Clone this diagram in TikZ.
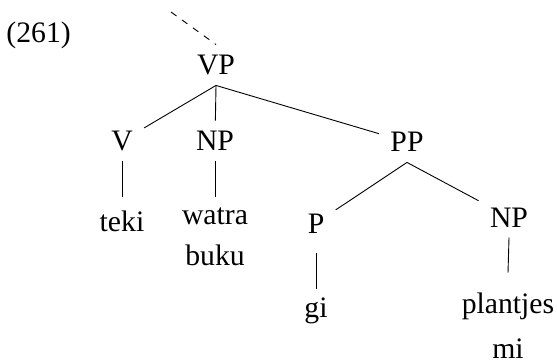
\documentclass[tikz,border=0pt]{standalone}
\usepackage{fontspec}
\setmainfont{Liberation Serif}
\begin{document}
\begin{tikzpicture}[x=0.4444pt,y=-0.4444pt,
  every node/.style={font=\fontsize{13.2}{15}\selectfont},
  cat/.style={inner ysep=0pt, inner xsep=4.89pt, text height=13.33pt, text depth=4.44pt, anchor=base},
  leaf/.style={inner sep=0pt, anchor=base},
  txt/.style={inner sep=0pt, anchor=base}]
\useasboundingbox (0,0) rectangle (557,363);
\node[txt, anchor=base west] (ex) at (6,43) {(261)};
\coordinate (dtop) at (171,12);
\node[cat] (vp) at (216,75) {VP};
\node[cat] (v) at (122,151) {V};
\node[cat] (np1) at (215,151) {NP};
\node[cat] (pp) at (407,152) {PP};
\node[cat, text height=17.78pt, text depth=8.89pt] (p) at (316,233) {P};
\node[cat] (np2) at (509,227) {NP};
\node[leaf, text height=15.56pt] (teki) at (122,232) {teki};
\node[leaf, text height=12.44pt] (watra) at (215,225) {watra};
\node[txt] (buku) at (215,265) {buku};
\node[leaf, text height=12.44pt] (gi) at (316,317) {gi};
\node[leaf, text height=17.78pt] (plantjes) at (508,313) {plantjes};
\node[txt] (mi) at (508,358) {mi};
\draw[dashed] (dtop) -- (vp.north);
\draw (vp.south) -- (v);
\draw (vp.south) -- (np1);
\draw (vp.south) -- (pp);
\draw (v.south) -- (teki.north);
\draw (np1.south) -- (watra.north);
\draw (pp.south) -- (p);
\draw (pp.south) -- (np2);
\draw (p.south) -- (gi.north);
\draw (np2.south) -- (plantjes.north);
\end{tikzpicture}
\end{document}
